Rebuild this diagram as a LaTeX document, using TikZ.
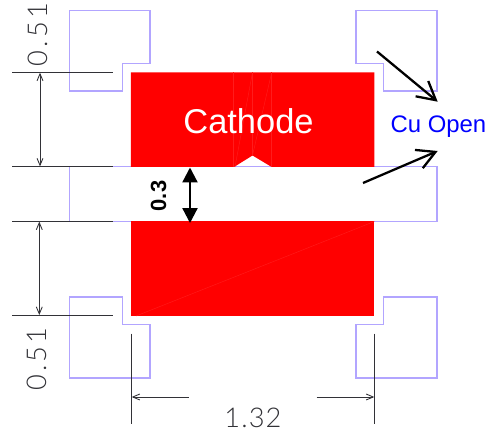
\documentclass[tikz,border=0pt]{standalone}
\usepackage{fontspec}
\setmainfont{Liberation Sans}
\newfontfamily\dimfont[LetterSpace=4]{Lato Light}
\newfontfamily\dimwidefont[LetterSpace=12]{Lato Light}
\usepackage{tikz}
\usetikzlibrary{arrows.meta}
\definecolor{padline}{RGB}{178,165,255}
\definecolor{dimline}{RGB}{50,50,55}
\definecolor{dimtext}{RGB}{50,50,55}
\definecolor{seamline}{RGB}{255,28,28}
\tikzset{
  pad/.style={draw=padline,line width=0.85pt},
  dim/.style={draw=dimline,line width=0.5pt},
  dimtip/.style={dim,{Straight Barb[length=4pt,width=3.4pt]}-{Straight Barb[length=4pt,width=3.4pt]}},
  dimone/.style={dim,-{Straight Barb[length=4pt,width=3.4pt]}},
  dimlabel/.style={text=dimtext,font=\dimfont\fontsize{15.5}{15.5}\selectfont},
  dimside/.style={text=dimtext,font=\dimwidefont\fontsize{15.5}{15.5}\selectfont,rotate=90},
  callout/.style={draw=black,line width=1.3pt,-{Straight Barb[length=10.3pt,width=11.3pt]}},
  seam/.style={draw=seamline,line width=0.25pt},
}
\begin{document}
\begin{tikzpicture}[x=0.02cm,y=-0.02cm]
            \useasboundingbox (0,0) rectangle (495,432);
            % pads
            \draw[pad] (69.3,10.6) -- (150,10.6) -- (150,63.4) -- (122.4,63.4) -- (122.4,91) -- (69.3,91) -- cycle;
            \draw[pad] (356,10.6) -- (436.8,10.6) -- (436.8,91) -- (383.4,91) -- (383.4,63.4) -- (356,63.4) -- cycle;
            \draw[pad] (69.3,297) -- (122.4,297) -- (122.4,324.4) -- (150,324.4) -- (150,377.8) -- (69.3,377.8) -- cycle;
            \draw[pad] (383.4,297) -- (436.8,297) -- (436.8,377.8) -- (356,377.8) -- (356,324.4) -- (383.4,324.4) -- cycle;
            \draw[pad] (69.3,166.5) rectangle (436.8,221.5);
            % cathode
            \fill[red] (131,72.4) -- (374.4,72.4) -- (374.4,167) -- (271.7,167) -- (252.5,155.5) -- (234,167) -- (131,167) -- cycle;
            \fill[red] (131,221.5) rectangle (374.4,316);
            \draw[seam] (233.5,72.4) -- (233.5,167);
            \draw[seam] (252.5,72.4) -- (252.5,155.5);
            \draw[seam] (271.7,72.4) -- (271.7,167);
            \draw[seam] (252.5,72.4) -- (235,167);
            \draw[seam] (271.7,72.4) -- (252.5,155.5);
            \draw[seam] (136,316) -- (374.4,221.5);
            \node[text=white,font=\fontsize{19.6}{19.6}\selectfont] (cathode) at (248.5,121) {Cathode};
            % dimensions
            \coordinate (t1a) at (12.3,72.7);
            \coordinate (t1b) at (113,72.7);
            \coordinate (t2a) at (12.3,166.4);
            \coordinate (t2b) at (113,166.4);
            \coordinate (t3a) at (12.3,221.6);
            \coordinate (t3b) at (113,221.6);
            \coordinate (t4a) at (12.3,315);
            \coordinate (t4b) at (113,315);
            \draw[dim] (t1a) -- (t1b);
            \draw[dim] (t2a) -- (t2b);
            \draw[dim] (t3a) -- (t3b);
            \draw[dim] (t4a) -- (t4b);
            \draw[dimtip] (40,72.7) -- (40,166.4);
            \draw[dimtip] (39.3,221.6) -- (39.3,315);
            \node[dimside] (toplabel) at (38,34.5) {0.51};
            \node[dimside] (botlabel) at (37,359) {0.51};
            \coordinate (v1a) at (131.7,333.7);
            \coordinate (v1b) at (131.7,424);
            \coordinate (v2a) at (374.3,333.7);
            \coordinate (v2b) at (374.3,424);
            \draw[dim] (v1a) -- (v1b);
            \draw[dim] (v2a) -- (v2b);
            \draw[dimone] (189,397) -- (131.7,397);
            \draw[dimone] (316.7,397) -- (374.3,397);
            \node[dimlabel] (widthlabel) at (253,417.5) {1.32};
            % gap
            \coordinate (g1) at (190,167.5);
            \coordinate (g2) at (190,223);
            \draw[line width=1.3pt,{Triangle[length=8.5pt,width=8.5pt]}-{Triangle[length=8.5pt,width=8.5pt]}] (g1) -- (g2);
            \node[rotate=90,font=\bfseries\fontsize{12.5}{12.5}\selectfont] (gaplabel) at (158.5,196) {0.3};
            % cu open
            \node[text=blue,font=\fontsize{13.6}{13.6}\selectfont] (cuopen) at (438.5,127) {Cu Open};
            \draw[callout] (377,51.5) -- (437.7,101.7);
            \draw[callout] (363,183) -- (437.7,151);
        \end{tikzpicture}
\end{document}
